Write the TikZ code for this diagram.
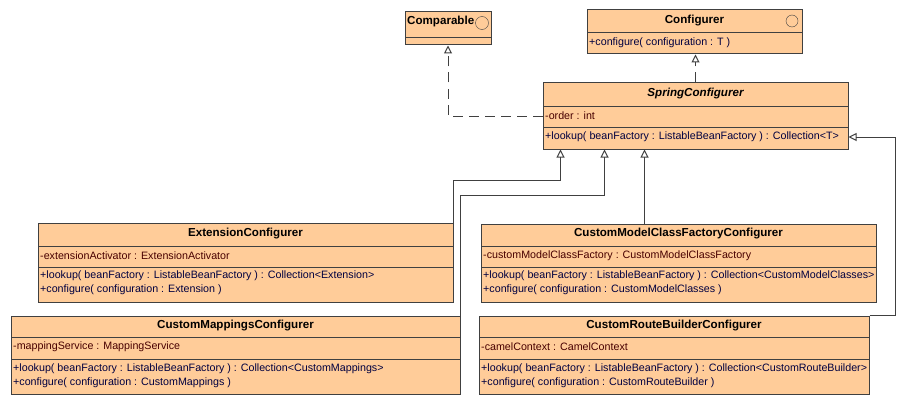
\documentclass[tikz,border=0pt]{standalone}
\usepackage{fontspec}
\setmainfont{Liberation Sans}
\usepackage{tikz}
\usetikzlibrary{arrows.meta,positioning,fit,calc}

\definecolor{classfill}{RGB}{255,204,153}
\definecolor{classline}{RGB}{64,64,64}
\definecolor{attrcol}{RGB}{72,0,0}
\definecolor{opcol}{RGB}{0,0,64}

\tikzset{
    classbox/.style={draw=classline, fill=classfill, line width=1pt, inner sep=0pt},
    classtitle/.style={inner sep=0pt, font=\fontsize{11.6}{13}\selectfont\bfseries},
    member/.style={anchor=west, inner sep=0pt, align=left, font=\fontsize{10.7}{14}\selectfont},
    inherit/.style={draw=classline, line width=1pt, -{Triangle[open, length=8pt, width=8pt]}},
    realize/.style={inherit, dash pattern=on 10pt off 6pt},
}

% class box: name, left, top, right, bottom
\newcommand{\umlbox}[5]{\node[classbox, fit={(#2,#3) (#4,#5)}] (#1) {};}

\begin{document}
\begin{tikzpicture}[x=1pt, y=-1pt]
            \useasboundingbox (0,0) rectangle (905,404);
            % interfaces
            \umlbox{comparable}{405}{12}{491}{45}
            \draw[classline, line width=1pt] (405,38) -- (491,38);
            \node[classtitle, anchor=west] (comparable-name) at (407,22) {Comparable};
            \draw[classline] (482,23) circle (6.5pt);
            \umlbox{configurer}{587}{10}{802}{54}
            \draw[classline, line width=1pt] (587,33) -- (802,33);
            \node[classtitle] (configurer-name) at (694.5,21) {Configurer};
            \draw[classline] (792,21) circle (6pt);
            \node[member, text=opcol] (configurer-ops) at (589,43) {+configure( configuration : T )};
            % abstract base
            \umlbox{spring}{543}{83}{848}{149}
            \foreach \y in {106,127}
            {
                \draw[classline, line width=1pt] (543,\y) -- (848,\y);
            }
            \node[classtitle, font=\fontsize{11.6}{13}\selectfont\bfseries\itshape] (spring-name) at (695.5,94) {SpringConfigurer};
            \node[member, text=attrcol] (spring-attr) at (545,116) {-order : int};
            \node[member, text=opcol] (spring-ops) at (545,137) {+lookup( beanFactory : ListableBeanFactory ) : Collection<T>};
            % concrete configurers
            \umlbox{ext}{38}{223}{453}{302}
            \umlbox{model}{481}{224}{876}{302}
            \foreach \y in {246,267}
            {
                \draw[classline, line width=1pt] (38,\y) -- (453,\y);
                \draw[classline, line width=1pt] (481,\y) -- (876,\y);
            }
            \node[classtitle] (ext-name) at (245.5,234) {ExtensionConfigurer};
            \node[member, text=attrcol] (ext-attr) at (40,256) {-extensionActivator : ExtensionActivator};
            \node[member, text=opcol] (ext-ops) at (40,283) {+lookup( beanFactory : ListableBeanFactory ) : Collection<Extension>\\+configure( configuration : Extension )};
            \node[classtitle] (model-name) at (678.5,234) {CustomModelClassFactoryConfigurer};
            \node[member, text=attrcol] (model-attr) at (483,256) {-customModelClassFactory : CustomModelClassFactory};
            \node[member, text=opcol] (model-ops) at (483,283) {+lookup( beanFactory : ListableBeanFactory ) : Collection<CustomModelClasses>\\+configure( configuration : CustomModelClasses )};
            \umlbox{mappings}{11}{316}{460}{394}
            \umlbox{route}{479}{316}{869}{394}
            \foreach \y in {337,359}
            {
                \draw[classline, line width=1pt] (11,\y) -- (460,\y);
                \draw[classline, line width=1pt] (479,\y) -- (869,\y);
            }
            \node[classtitle] (mappings-name) at (235.5,326) {CustomMappingsConfigurer};
            \node[member, text=attrcol] (mappings-attr) at (13,347) {-mappingService : MappingService};
            \node[member, text=opcol] (mappings-ops) at (13,375.5) {+lookup( beanFactory : ListableBeanFactory ) : Collection<CustomMappings>\\+configure( configuration : CustomMappings )};
            \node[classtitle] (route-name) at (674,326) {CustomRouteBuilderConfigurer};
            \node[member, text=attrcol] (route-attr) at (481,347) {-camelContext : CamelContext};
            \node[member, text=opcol] (route-ops) at (481,375.5) {+lookup( beanFactory : ListableBeanFactory ) : Collection<CustomRouteBuilder>\\+configure( configuration : CustomRouteBuilder )};
            % realization of the interfaces
            \draw[realize] (spring.north) -- (spring.north |- configurer.south);
            \draw[realize] (spring.west) -| (comparable.south);
            % generalization towards SpringConfigurer
            \coordinate (s1) at ([xshift=18pt]spring.south west);
            \coordinate (s2) at ([xshift=62pt]spring.south west);
            \coordinate (s3) at ([xshift=102pt]spring.south west);
            \coordinate (s4) at ([yshift=-21pt]spring.east);
            \draw[inherit] (ext.north east) -- ++(0,-42) -| (s1);
            \draw[inherit] (mappings.north east) -- ++(0,-120) -| (s2);
            \draw[inherit] (s3 |- model.north) -- (s3);
            \draw[inherit] (route.north east) -- ++(26,0) |- (s4);
        \end{tikzpicture}
\end{document}
